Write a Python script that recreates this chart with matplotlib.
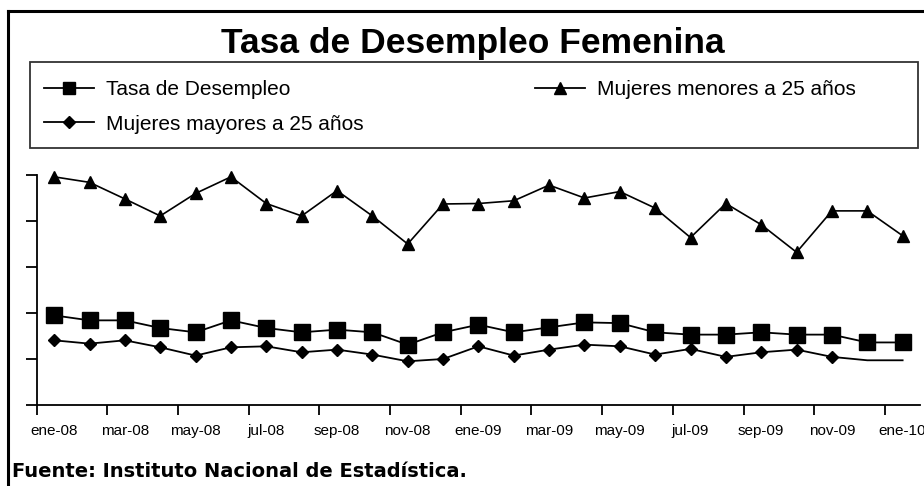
import matplotlib
matplotlib.use("Agg")
import matplotlib.pyplot as plt
from matplotlib.lines import Line2D
from matplotlib.patches import Rectangle
import numpy as np

# valores (escala 0-25, eje sin etiquetas)
tasa = [9.74, 9.2, 9.2, 8.37, 7.9, 9.2, 8.37, 7.9, 8.19, 7.9, 6.56, 7.9, 8.73,
        7.9, 8.44, 8.98, 8.9, 7.9, 7.65, 7.65, 7.9, 7.65, 7.65, 6.8, 6.8]
menores = [24.8, 24.2, 22.4, 20.55, 23.0, 24.8, 21.9, 20.55, 23.3, 20.55, 17.5,
           21.85, 21.9, 22.2, 23.9, 22.5, 23.2, 21.4, 18.2, 21.9, 19.6, 16.6,
           21.1, 21.1, 18.4]
mayores = [7.03, 6.67, 7.03, 6.27, 5.37, 6.27, 6.38, 5.73, 6.02, 5.48, 4.75, 5.0,
           6.38, 5.37, 6.02, 6.56, 6.38, 5.48, 6.1, 5.23, 5.73, 6.02, 5.23, 4.86,
           4.86]
etiquetas = ['ene-08', 'mar-08', 'may-08', 'jul-08', 'sep-08', 'nov-08', 'ene-09',
             'mar-09', 'may-09', 'jul-09', 'sep-09', 'nov-09', 'ene-10']

W, H = 924, 486
fig = plt.figure(figsize=(W / 100, H / 100), dpi=100)
plt.rcParams['font.family'] = ['Liberation Sans', 'DejaVu Sans']

def fx(px):
    return px / W

def fy(py):
    return 1 - py / H

# marco exterior
fig.add_artist(Line2D([fx(8), fx(8)], [fy(11), fy(490)], color='black', lw=2.2))
fig.add_artist(Line2D([fx(8), fx(930)], [fy(11), fy(11)], color='black', lw=2.2))

# caja de leyenda
fig.add_artist(Rectangle((fx(30), fy(148)), fx(918) - fx(30), fy(62) - fy(148),
                         fill=False, edgecolor='#333333', lw=1.3))

fig.text(fx(473), fy(53), 'Tasa de Desempleo Femenina', ha='center', va='baseline',
         fontsize=25.5, fontweight='bold')

ax = fig.add_axes([fx(36.5), fy(405), fx(920.3) - fx(36.5), fy(175) - fy(405)])
x = np.arange(len(tasa))
ax.plot(x, tasa, color='black', lw=1.3, marker='s', markersize=12, clip_on=False)
ax.plot(x, menores, color='black', lw=1.2, marker='^', markersize=9, clip_on=False)
ax.plot(x, mayores, color='black', lw=1.3, marker='D', markersize=6.5,
        markevery=list(range(23)), clip_on=False)

ax.set_xlim(-0.5, len(tasa) - 0.5)
ax.set_ylim(0, 25)
ax.spines['top'].set_visible(False)
ax.spines['right'].set_visible(False)
ax.spines['left'].set_linewidth(1.3)
ax.spines['bottom'].set_linewidth(1.3)
ax.set_yticks(np.arange(0, 26, 5))
ax.set_yticklabels([])
ax.tick_params(axis='y', length=8, width=1.3, direction='out')
ax.set_xticks(np.arange(-0.5, len(tasa), 2))
ax.set_xticklabels([])
ax.tick_params(axis='x', which='major', length=7, width=1.3, direction='out')
ax.set_xticks(np.arange(0, len(tasa), 2), minor=True)
ax.set_xticklabels(etiquetas, minor=True)
ax.tick_params(axis='x', which='minor', length=0, pad=14, labelsize=11)
ax.patch.set_alpha(0)

handles = [
    Line2D([], [], color='black', lw=1.3, marker='s', markersize=9),
    Line2D([], [], color='black', lw=1.3, marker='D', markersize=6.5),
    Line2D([], [], color='black', lw=1.3, marker='^', markersize=8),
]
nombres = ['Tasa de Desempleo', 'Mujeres mayores a 25 años', 'Mujeres menores a 25 años']
fig.legend(handles, nombres, loc='upper left', bbox_to_anchor=(fx(44), fy(80)),
           ncol=2, frameon=False, fontsize=15, handlelength=2.4, handletextpad=0.6,
           columnspacing=8.2, labelspacing=0.75, borderpad=0, borderaxespad=0)

fig.text(fx(12), fy(477), 'Fuente: Instituto Nacional de Estadística.', ha='left',
         va='baseline', fontsize=14, fontweight='bold', family='DejaVu Sans')

fig.savefig('out.png', dpi=100)
